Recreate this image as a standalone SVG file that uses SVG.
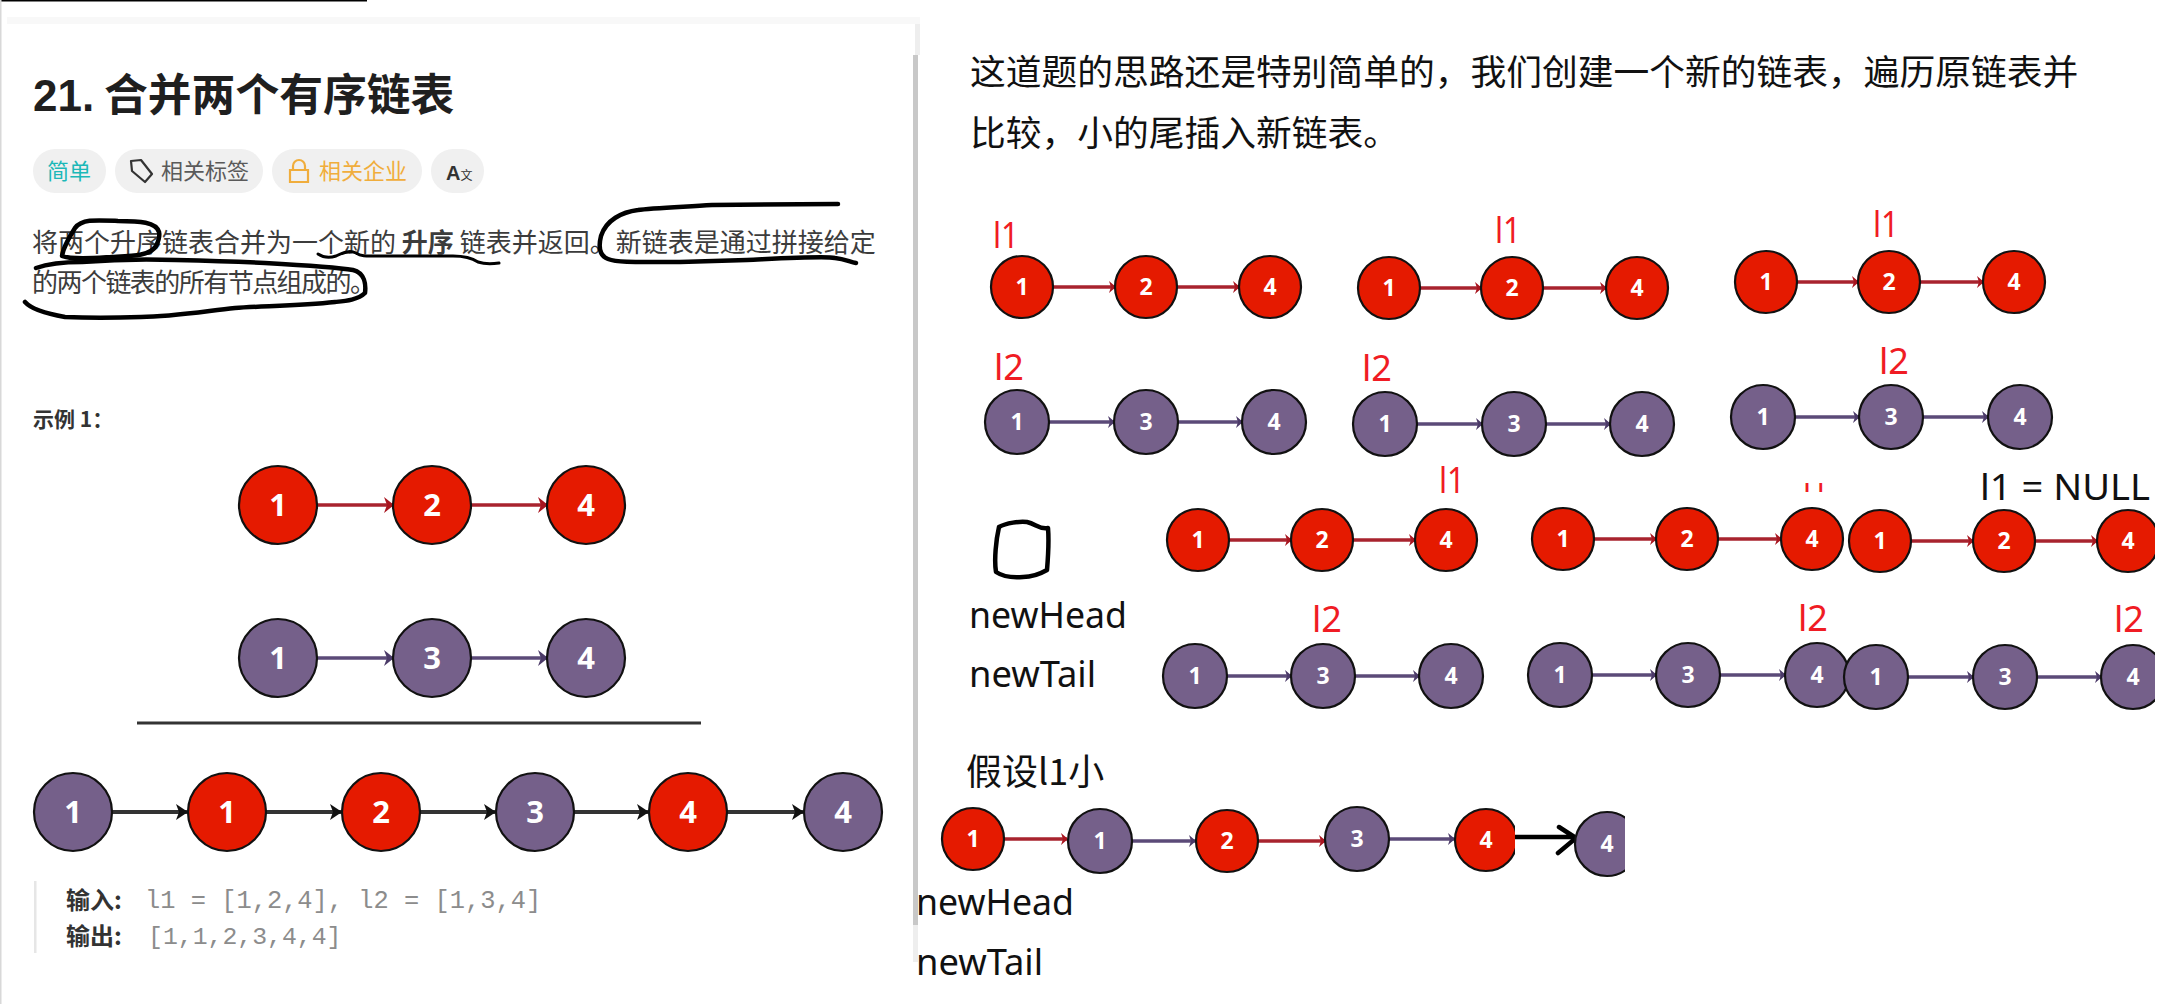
<svg xmlns="http://www.w3.org/2000/svg" width="2162" height="1004" viewBox="0 0 2162 1004">
<style>
text{font-family:"Liberation Sans","Noto Sans CJK SC",sans-serif}
.cjk{font-family:"Noto Sans CJK SC","Liberation Sans",sans-serif}
.r{fill:#e51a00;stroke:#111;stroke-width:2.2}
.p{fill:#75608a;stroke:#111;stroke-width:2.2}
.nb{font-family:"Noto Sans","Liberation Sans",sans-serif;font-weight:700;font-size:31px;fill:#fff;text-anchor:middle}
.ns{font-family:"Noto Sans","Liberation Sans",sans-serif;font-weight:700;font-size:23px;fill:#fff;text-anchor:middle}
.red{stroke:#a8232e;stroke-width:3.5;fill:none}
.pur{stroke:#5b4a78;stroke-width:3.5;fill:none}
.blk{stroke:#333;stroke-width:4;fill:none}
.ink{fill:none;stroke:#000;stroke-width:4.5;stroke-linecap:round;stroke-linejoin:round}
.lab{font-family:"Noto Sans","Liberation Sans",sans-serif;font-size:37px}
.lr{fill:#f01c24}
.tag{fill:#f0f0f0}
.para{font-size:26px;fill:#3c3c3c}
.mono{font-family:"Liberation Mono","DejaVu Sans Mono",monospace;fill:#8c8c8c}
.io{font-weight:700;font-size:24px;fill:#333}
</style>
<defs>
<marker id="ar" markerUnits="userSpaceOnUse" markerWidth="10" markerHeight="16" refX="9" refY="8" orient="auto"><path d="M0,0 L10,8 L0,16 L3,8 Z" fill="#a8151f"/></marker>
<marker id="ap" markerUnits="userSpaceOnUse" markerWidth="10" markerHeight="16" refX="9" refY="8" orient="auto"><path d="M0,0 L10,8 L0,16 L3,8 Z" fill="#4b3a68"/></marker>
<marker id="ab" markerUnits="userSpaceOnUse" markerWidth="12" markerHeight="16" refX="11" refY="8" orient="auto"><path d="M0,0 L12,8 L0,16 L3,8 Z" fill="#111"/></marker>
<marker id="sr" markerUnits="userSpaceOnUse" markerWidth="7" markerHeight="12" refX="6" refY="6" orient="auto"><path d="M0,0 L7,6 L0,12 L2,6 Z" fill="#a8151f"/></marker>
<marker id="sp" markerUnits="userSpaceOnUse" markerWidth="7" markerHeight="12" refX="6" refY="6" orient="auto"><path d="M0,0 L7,6 L0,12 L2,6 Z" fill="#4b3a68"/></marker>
<clipPath id="cut4"><rect x="1780" y="483" width="60" height="9"/></clipPath>
<clipPath id="cr"><rect x="900" y="800" width="615" height="90"/></clipPath>
<clipPath id="cp"><rect x="1500" y="800" width="125" height="90"/></clipPath>
</defs>
<rect width="2162" height="1004" fill="#fff"/>
<rect x="0" y="0" width="367" height="1.5" fill="#000"/>
<rect x="0" y="0" width="1.5" height="1004" fill="#d8d8d8"/>
<rect x="7" y="17" width="913" height="7" fill="#f8f8f8"/>
<rect x="915" y="24" width="5" height="31" fill="#eee"/>
<rect x="913" y="55" width="5" height="870" fill="#c8c8c8"/>
<rect x="913" y="925" width="5" height="37" fill="#eee"/>

<g id="header">
<text x="33" y="111" font-size="44" font-weight="700" fill="#1f1f1f">21.<tspan class="cjk" x="104" font-size="43.8">合并两个有序链表</tspan></text>
<rect class="tag" x="33" y="149" width="73" height="44" rx="22"/>
<text class="cjk" x="47" y="179" font-size="22" fill="#1cb8b8">简单</text>
<rect class="tag" x="115" y="149" width="148" height="44" rx="22"/>
<path d="M131,161 L141,160 L152,174 L145,182 L132,171 Z" fill="none" stroke="#333" stroke-width="2.2" stroke-linejoin="round"/>
<text class="cjk" x="161" y="179" font-size="22" fill="#5a5a5a">相关标签</text>
<rect class="tag" x="272" y="149" width="150" height="44" rx="22"/>
<path d="M293,170 V166 A6,6 0 0 1 305,166 V170 M290,170 H308 V182 H290 Z" fill="none" stroke="#f0ad3c" stroke-width="2.2"/>
<text class="cjk" x="319" y="179" font-size="22" fill="#f0ad3c">相关企业</text>
<rect class="tag" x="431" y="149" width="53" height="44" rx="22"/>
<text x="446" y="180" font-size="20" font-weight="700" fill="#333">A<tspan class="cjk" font-size="12" font-weight="400">文</tspan></text>
</g>

<g id="description">
<text class="cjk para" x="32" y="252" xml:space="preserve">将两个升序链表合并为一个新的 <tspan font-weight="700">升序</tspan> 链表并返回。新链表是通过拼接给定</text>
<text class="cjk para" x="32" y="292" textLength="344">的两个链表的所有节点组成的。</text>
<text class="cjk" x="33" y="427" font-size="21" font-weight="700" fill="#333">示例 1：</text>
</g>

<g id="annotations">
<path class="ink" d="M159,232 C156,222 140,221 118,221 C95,220 82,219 75,228 C70,236 63,248 62,256 C72,260 95,258 112,257 C132,256 150,256 156,246 C159,240 160,236 159,232"/>
<path class="ink" style="stroke-width:3" d="M318,254 C324,258 330,258 336,256 C344,252 350,250 356,253 C362,257 368,256 380,256 L453,256 C465,256 472,258 478,262 C484,264 492,264 499,263"/>
<path class="ink" d="M838,204 L712,205 C680,207 650,208 638,210 C622,212 606,220 601,236 C598,248 600,256 608,259 C618,263 640,262 680,262 L747,260 C790,258 825,256 835,258 C845,259 850,262 856,263"/>
<path class="ink" d="M36,268 C50,263 65,262 82,262 C120,259 150,259 176,260 C220,261 245,262 265,263 C300,265 335,267 353,270 C365,273 366,285 365,293 C358,300 345,301 335,302 C300,306 260,306 235,308 C200,312 170,317 141,317 C115,318 85,318 65,317 C48,314 32,310 25,302"/>
<path class="ink" d="M999,527 C1006,523 1020,521 1027,522 C1036,524 1040,530 1048,528 C1049,540 1048,558 1047,570 C1040,574 1032,577 1023,577 C1012,578 1002,576 996,572 C994,560 996,540 999,527 Z" stroke-width="3.5"/>
</g>

<g id="connectors">
<line class="red" x1="317" y1="505" x2="393" y2="505" marker-end="url(#ar)"/>
<line class="red" x1="471" y1="505" x2="547" y2="505" marker-end="url(#ar)"/>
<line class="pur" x1="317" y1="658" x2="393" y2="658" marker-end="url(#ap)"/>
<line class="pur" x1="471" y1="658" x2="547" y2="658" marker-end="url(#ap)"/>
<line x1="137" y1="723" x2="701" y2="723" stroke="#333" stroke-width="3"/>
<line class="blk" x1="112" y1="812" x2="187" y2="812" marker-end="url(#ab)"/>
<line class="blk" x1="266" y1="812" x2="341" y2="812" marker-end="url(#ab)"/>
<line class="blk" x1="420" y1="812" x2="495" y2="812" marker-end="url(#ab)"/>
<line class="blk" x1="574" y1="812" x2="648" y2="812" marker-end="url(#ab)"/>
<line class="blk" x1="727" y1="812" x2="803" y2="812" marker-end="url(#ab)"/>

<line class="red" x1="1053" y1="287" x2="1115" y2="287" marker-end="url(#sr)"/>
<line class="red" x1="1177" y1="287" x2="1239" y2="287" marker-end="url(#sr)"/>
<line class="red" x1="1420" y1="288" x2="1481" y2="288" marker-end="url(#sr)"/>
<line class="red" x1="1543" y1="288" x2="1606" y2="288" marker-end="url(#sr)"/>
<line class="red" x1="1797" y1="282" x2="1858" y2="282" marker-end="url(#sr)"/>
<line class="red" x1="1920" y1="282" x2="1983" y2="282" marker-end="url(#sr)"/>
<line class="pur" x1="1049" y1="422" x2="1114" y2="422" marker-end="url(#sp)"/>
<line class="pur" x1="1178" y1="422" x2="1242" y2="422" marker-end="url(#sp)"/>
<line class="pur" x1="1417" y1="424" x2="1482" y2="424" marker-end="url(#sp)"/>
<line class="pur" x1="1546" y1="424" x2="1610" y2="424" marker-end="url(#sp)"/>
<line class="pur" x1="1795" y1="417" x2="1859" y2="417" marker-end="url(#sp)"/>
<line class="pur" x1="1923" y1="417" x2="1988" y2="417" marker-end="url(#sp)"/>

<line class="red" x1="1229" y1="540" x2="1291" y2="540" marker-end="url(#sr)"/>
<line class="red" x1="1353" y1="540" x2="1415" y2="540" marker-end="url(#sr)"/>
<line class="red" x1="1594" y1="539" x2="1656" y2="539" marker-end="url(#sr)"/>
<line class="red" x1="1718" y1="539" x2="1781" y2="539" marker-end="url(#sr)"/>
<line class="red" x1="1911" y1="541" x2="1973" y2="541" marker-end="url(#sr)"/>
<line class="red" x1="2035" y1="541" x2="2097" y2="541" marker-end="url(#sr)"/>
<line class="pur" x1="1227" y1="676" x2="1291" y2="676" marker-end="url(#sp)"/>
<line class="pur" x1="1355" y1="676" x2="1419" y2="676" marker-end="url(#sp)"/>
<line class="pur" x1="1592" y1="675" x2="1656" y2="675" marker-end="url(#sp)"/>
<line class="pur" x1="1720" y1="675" x2="1785" y2="675" marker-end="url(#sp)"/>
<line class="pur" x1="1908" y1="677" x2="1973" y2="677" marker-end="url(#sp)"/>
<line class="pur" x1="2037" y1="677" x2="2101" y2="677" marker-end="url(#sp)"/>

<line class="red" x1="1005" y1="839" x2="1067" y2="839" marker-end="url(#sr)"/>
<line class="pur" x1="1132" y1="841" x2="1195" y2="841" marker-end="url(#sp)"/>
<line class="red" x1="1259" y1="841" x2="1325" y2="841" marker-end="url(#sr)"/>
<line class="pur" x1="1389" y1="839" x2="1454" y2="839" marker-end="url(#sp)"/>
<path class="ink" d="M1513,837 H1574 M1559,827 L1576,838 L1558,853" stroke-width="4"/>
</g>

<g id="a1"><circle class="r" cx="278" cy="505" r="39"/><text class="nb" x="278" y="516">1</text></g>
<g id="a2"><circle class="r" cx="432" cy="505" r="39"/><text class="nb" x="432" y="516">2</text></g>
<g id="a3"><circle class="r" cx="586" cy="505" r="39"/><text class="nb" x="586" y="516">4</text></g>
<g id="b1"><circle class="p" cx="278" cy="658" r="39"/><text class="nb" x="278" y="669">1</text></g>
<g id="b2"><circle class="p" cx="432" cy="658" r="39"/><text class="nb" x="432" y="669">3</text></g>
<g id="b3"><circle class="p" cx="586" cy="658" r="39"/><text class="nb" x="586" y="669">4</text></g>
<g id="m1"><circle class="p" cx="73" cy="812" r="39"/><text class="nb" x="73" y="823">1</text></g>
<g id="m2"><circle class="r" cx="227" cy="812" r="39"/><text class="nb" x="227" y="823">1</text></g>
<g id="m3"><circle class="r" cx="381" cy="812" r="39"/><text class="nb" x="381" y="823">2</text></g>
<g id="m4"><circle class="p" cx="535" cy="812" r="39"/><text class="nb" x="535" y="823">3</text></g>
<g id="m5"><circle class="r" cx="688" cy="812" r="39"/><text class="nb" x="688" y="823">4</text></g>
<g id="m6"><circle class="p" cx="843" cy="812" r="39"/><text class="nb" x="843" y="823">4</text></g>

<g id="io">
<rect x="34" y="881" width="2.5" height="72" fill="#e6e6e6"/>
<text class="cjk io" x="66" y="909">输入:</text>
<text class="mono" x="145" y="908" font-size="25.4">l1 = [1,2,4], l2 = [1,3,4]</text>
<text class="cjk io" x="66" y="945">输出:</text>
<text class="mono" x="148" y="944" font-size="24.8">[1,1,2,3,4,4]</text>
</g>

<g id="intro">
<text class="cjk" x="970" y="85" font-size="35.75" fill="#111">这道题的思路还是特别简单的，我们创建一个新的链表，遍历原链表并</text>
<text class="cjk" x="970" y="146" font-size="35.75" fill="#111">比较，小的尾插入新链表。</text>
</g>

<g id="labels">
<text class="lab lr" x="993" y="248" textLength="26" lengthAdjust="spacingAndGlyphs">l1</text>
<text class="lab lr" x="1495" y="243" textLength="26" lengthAdjust="spacingAndGlyphs">l1</text>
<text class="lab lr" x="1873" y="237" textLength="26" lengthAdjust="spacingAndGlyphs">l1</text>
<text class="lab lr" x="994" y="380" textLength="30" lengthAdjust="spacingAndGlyphs">l2</text>
<text class="lab lr" x="1362" y="381" textLength="30" lengthAdjust="spacingAndGlyphs">l2</text>
<text class="lab lr" x="1879" y="374" textLength="30" lengthAdjust="spacingAndGlyphs">l2</text>
<text class="lab lr" x="1439" y="493" textLength="26" lengthAdjust="spacingAndGlyphs">l1</text>
<text class="lab lr" x="1803" y="497" textLength="26" lengthAdjust="spacingAndGlyphs" clip-path="url(#cut4)">l1</text>
<text class="lab" x="1980" y="500" textLength="170" lengthAdjust="spacingAndGlyphs" fill="#111">l1 = NULL</text>
<text class="lab lr" x="1312" y="632" textLength="30" lengthAdjust="spacingAndGlyphs">l2</text>
<text class="lab lr" x="1798" y="631" textLength="30" lengthAdjust="spacingAndGlyphs">l2</text>
<text class="lab lr" x="2114" y="632" textLength="30" lengthAdjust="spacingAndGlyphs">l2</text>
<text class="lab" x="969" y="628" textLength="158" lengthAdjust="spacingAndGlyphs" fill="#111">newHead</text>
<text class="lab" x="969" y="687" textLength="127" lengthAdjust="spacingAndGlyphs" fill="#111">newTail</text>
<text class="cjk" x="966" y="785" font-size="36" fill="#111">假设l1小</text>
<text class="lab" x="916" y="915" textLength="158" lengthAdjust="spacingAndGlyphs" fill="#111">newHead</text>
<text class="lab" x="916" y="975" textLength="127" lengthAdjust="spacingAndGlyphs" fill="#111">newTail</text>
</g>

<g id="c1"><circle class="r" cx="1022" cy="287" r="31"/><text class="ns" x="1022" y="295">1</text></g>
<g id="c2"><circle class="r" cx="1146" cy="287" r="31"/><text class="ns" x="1146" y="295">2</text></g>
<g id="c3"><circle class="r" cx="1270" cy="287" r="31"/><text class="ns" x="1270" y="295">4</text></g>
<g id="c4"><circle class="r" cx="1389" cy="288" r="31"/><text class="ns" x="1389" y="296">1</text></g>
<g id="c5"><circle class="r" cx="1512" cy="288" r="31"/><text class="ns" x="1512" y="296">2</text></g>
<g id="c6"><circle class="r" cx="1637" cy="288" r="31"/><text class="ns" x="1637" y="296">4</text></g>
<g id="c7"><circle class="r" cx="1766" cy="282" r="31"/><text class="ns" x="1766" y="290">1</text></g>
<g id="c8"><circle class="r" cx="1889" cy="282" r="31"/><text class="ns" x="1889" y="290">2</text></g>
<g id="c9"><circle class="r" cx="2014" cy="282" r="31"/><text class="ns" x="2014" y="290">4</text></g>
<g id="d1"><circle class="p" cx="1017" cy="422" r="32"/><text class="ns" x="1017" y="430">1</text></g>
<g id="d2"><circle class="p" cx="1146" cy="422" r="32"/><text class="ns" x="1146" y="430">3</text></g>
<g id="d3"><circle class="p" cx="1274" cy="422" r="32"/><text class="ns" x="1274" y="430">4</text></g>
<g id="d4"><circle class="p" cx="1385" cy="424" r="32"/><text class="ns" x="1385" y="432">1</text></g>
<g id="d5"><circle class="p" cx="1514" cy="424" r="32"/><text class="ns" x="1514" y="432">3</text></g>
<g id="d6"><circle class="p" cx="1642" cy="424" r="32"/><text class="ns" x="1642" y="432">4</text></g>
<g id="d7"><circle class="p" cx="1763" cy="417" r="32"/><text class="ns" x="1763" y="425">1</text></g>
<g id="d8"><circle class="p" cx="1891" cy="417" r="32"/><text class="ns" x="1891" y="425">3</text></g>
<g id="d9"><circle class="p" cx="2020" cy="417" r="32"/><text class="ns" x="2020" y="425">4</text></g>

<g id="e1"><circle class="r" cx="1198" cy="540" r="31"/><text class="ns" x="1198" y="548">1</text></g>
<g id="e2"><circle class="r" cx="1322" cy="540" r="31"/><text class="ns" x="1322" y="548">2</text></g>
<g id="e3"><circle class="r" cx="1446" cy="540" r="31"/><text class="ns" x="1446" y="548">4</text></g>
<g id="e4"><circle class="r" cx="1563" cy="539" r="31"/><text class="ns" x="1563" y="547">1</text></g>
<g id="e5"><circle class="r" cx="1687" cy="539" r="31"/><text class="ns" x="1687" y="547">2</text></g>
<g id="e6"><circle class="r" cx="1812" cy="539" r="31"/><text class="ns" x="1812" y="547">4</text></g>
<g id="e7"><circle class="r" cx="1880" cy="541" r="31"/><text class="ns" x="1880" y="549">1</text></g>
<g id="e8"><circle class="r" cx="2004" cy="541" r="31"/><text class="ns" x="2004" y="549">2</text></g>
<g id="e9"><circle class="r" cx="2128" cy="541" r="31"/><text class="ns" x="2128" y="549">4</text></g>
<g id="f1"><circle class="p" cx="1195" cy="676" r="32"/><text class="ns" x="1195" y="684">1</text></g>
<g id="f2"><circle class="p" cx="1323" cy="676" r="32"/><text class="ns" x="1323" y="684">3</text></g>
<g id="f3"><circle class="p" cx="1451" cy="676" r="32"/><text class="ns" x="1451" y="684">4</text></g>
<g id="f4"><circle class="p" cx="1560" cy="675" r="32"/><text class="ns" x="1560" y="683">1</text></g>
<g id="f5"><circle class="p" cx="1688" cy="675" r="32"/><text class="ns" x="1688" y="683">3</text></g>
<g id="f6"><circle class="p" cx="1817" cy="675" r="32"/><text class="ns" x="1817" y="683">4</text></g>
<g id="f7"><circle class="p" cx="1876" cy="677" r="32"/><text class="ns" x="1876" y="685">1</text></g>
<g id="f8"><circle class="p" cx="2005" cy="677" r="32"/><text class="ns" x="2005" y="685">3</text></g>
<g id="f9"><circle class="p" cx="2133" cy="677" r="32"/><text class="ns" x="2133" y="685">4</text></g>

<rect x="2155" y="450" width="7" height="290" fill="#fff"/>

<g id="g1"><circle class="r" cx="973" cy="839" r="31"/><text class="ns" x="973" y="847">1</text></g>
<g id="g2"><circle class="p" cx="1100" cy="841" r="32"/><text class="ns" x="1100" y="849">1</text></g>
<g id="g3"><circle class="r" cx="1227" cy="841" r="31"/><text class="ns" x="1227" y="849">2</text></g>
<g id="g4"><circle class="p" cx="1357" cy="839" r="32"/><text class="ns" x="1357" y="847">3</text></g>
<g id="g5" clip-path="url(#cr)"><circle class="r" cx="1486" cy="840" r="31"/><text class="ns" x="1486" y="848">4</text></g>
<g id="g6" clip-path="url(#cp)"><circle class="p" cx="1607" cy="844" r="32"/><text class="ns" x="1607" y="852">4</text></g>
</svg>
